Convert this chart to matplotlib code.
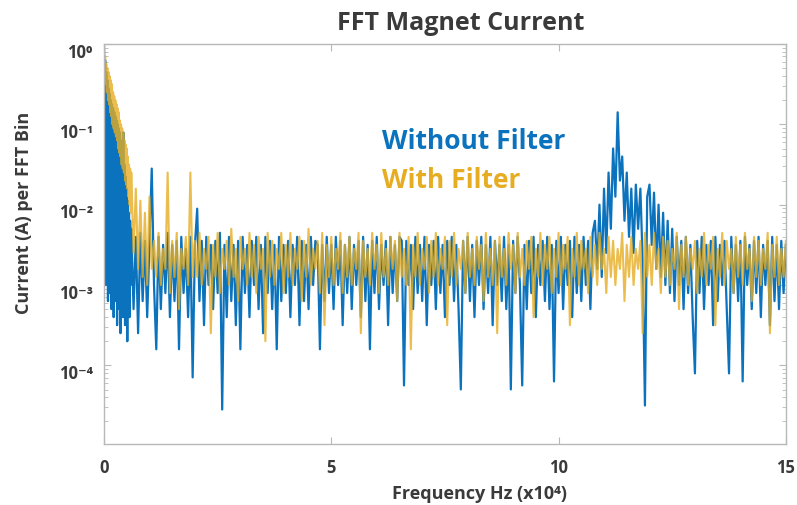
import numpy as np
import matplotlib
matplotlib.use("Agg")
import matplotlib.pyplot as plt
from matplotlib.transforms import ScaledTranslation

plt.rcParams['font.family'] = ['Open Sans', 'DejaVu Sans']

# frequency axis in units of 1e4 Hz: fine bins below 0.6, then one bin every 0.05
freq = np.concatenate([np.arange(48) * 0.0125, 0.6 + np.arange(289) * 0.05])

# log10 of current per FFT bin (first row covers 0-0.6 in 48 bins, second 0.6-1, then one row per 1e4 Hz)
without_filter_log = [
    0.0, -2.0, -0.2, -3.0, -0.35, -2.8, -0.45, -3.2, -0.55, -3.1, -0.62, -2.8, -0.7, -3.3, -0.75, -3.0,
    -0.8, -3.4, -0.85, -2.9, -0.9, -3.2, -0.95, -3.5, -1.0, -3.0, -1.05, -3.3, -1.1, -3.6, -1.2, -3.1,
    -1.3, -3.4, -1.1, -3.0, -1.5, -3.5, -1.65, -3.2, -1.8, -3.7, -1.95, -3.1, -2.1, -3.4, -2.2, -3.0,
    -2.3, -3.3, -2.4, -3.6, -2.35, -3.2, -2.45, -3.4,
    -2.5, -1.55, -3.0, -3.8, -2.4, -3.3, -2.5, -3.1, -2.35, -3.4, -2.5, -3.2, -2.45, -3.8, -2.4, -3.1, -2.55, -3.4, -2.4, -4.15,
    -2.5, -2.05, -3.2, -2.45, -3.5, -2.4, -3.0, -2.5, -3.3, -2.45, -3.1, -2.35, -4.55, -2.5, -3.4, -2.4, -3.2, -2.5, -3.5, -2.45,
    -3.8, -2.4, -3.1, -2.5, -3.4, -2.45, -3.0, -2.4, -3.3, -2.5, -3.6, -2.4, -3.1, -2.45, -3.3, -2.5, -3.8, -2.4, -3.2, -2.5,
    -3.1, -2.45, -3.4, -2.5, -3.0, -2.4, -3.5, -2.45, -3.2, -2.5, -3.3, -2.4, -3.0, -2.45, -2.5, -3.8, -2.5, -3.2, -2.4, -3.1,
    -2.5, -3.3, -2.4, -3.0, -2.45, -3.5, -2.5, -3.1, -2.4, -3.3, -2.5, -3.0, -2.45, -3.4, -2.4, -3.2, -2.5, -3.8, -2.45, -3.1,
    -2.4, -3.3, -2.5, -3.0, -2.45, -3.5, -2.4, -3.1, -2.5, -3.2, -2.4, -2.45, -4.25, -2.45, -3.0, -2.5, -3.3, -2.4, -3.1, -2.5,
    -3.2, -2.4, -3.5, -2.5, -3.0, -2.45, -3.3, -2.4, -3.1, -2.5, -3.4, -2.45, -3.0, -2.4, -3.2, -2.5, -3.3, -4.3, -2.45, -3.1,
    -2.4, -3.2, -2.5, -3.4, -2.45, -3.0, -2.4, -3.3, -2.5, -3.1, -2.4, -3.5, -2.45, -3.0, -2.5, -3.2, -2.4, -3.3, -2.5, -4.3,
    -2.45, -3.1, -2.4, -3.0, -4.25, -2.5, -3.3, -2.45, -3.1, -2.4, -3.4, -2.5, -3.0, -2.45, -3.2, -2.4, -3.3, -2.5, -4.2, -2.45,
    -3.1, -2.4, -3.3, -2.5, -3.0, -2.45, -3.4, -2.4, -3.1, -2.5, -3.2, -2.4, -3.0, -2.45, -3.3, -2.35, -2.2, -2.8, -2.0, -2.9,
    -1.8, -2.6, -1.6, -2.3, -1.3, -1.9, -0.85, -1.7, -1.4, -2.2, -1.6, -2.4, -1.8, -2.6, -1.75, -2.3, -1.8, -2.7, -4.5, -1.9,
    -1.75, -2.5, -1.85, -2.8, -2.0, -2.9, -2.1, -3.0, -2.2, -3.1, -2.3, -3.2, -2.4, -3.0, -2.45, -3.3, -2.4, -3.1, -2.5, -3.4,
    -4.1, -2.45, -3.1, -2.4, -3.3, -2.5, -3.0, -2.45, -3.5, -2.4, -3.2, -2.5, -3.0, -2.45, -3.3, -4.1, -2.4, -3.1, -2.5, -3.2,
    -2.45, -4.2, -2.4, -3.0, -2.5, -3.3, -2.45, -3.1, -2.4, -3.4, -2.5, -3.0, -2.45, -3.5, -2.4, -3.2, -2.5, -3.3, -2.45, -3.1,
    -2.5,
]

with_filter_log = [
    -0.05, -0.3, -0.15, -0.5, -0.25, -0.6, -0.3, -0.7, -0.35, -0.75, -0.4, -0.85, -0.45, -0.9, -0.5, -1.0,
    -0.6, -1.05, -0.65, -1.1, -0.7, -1.15, -0.75, -1.2, -0.8, -1.3, -0.85, -1.35, -0.95, -1.4, -1.0, -1.5,
    -1.05, -1.55, -1.1, -1.6, -1.2, -1.7, -1.25, -1.75, -1.3, -1.8, -1.4, -1.9, -1.5, -2.0, -1.55, -2.1,
    -1.6, -2.6, -1.8, -2.8, -1.95, -2.9, -2.1, -3.0,
    -1.9, -2.8, -2.45, -2.9, -2.35, -3.0, -2.55, -2.8, -1.6, -3.1, -2.45, -2.9, -2.35, -3.3, -2.55, -2.8, -2.4, -3.0, -1.6, -2.9,
    -2.45, -2.9, -2.35, -3.0, -2.55, -2.8, -2.4, -3.6, -2.5, -2.9, -2.35, -3.1, -2.55, -2.8, -2.45, -3.0, -2.3, -2.9, -2.55, -3.2,
    -2.4, -2.8, -2.55, -3.0, -2.35, -2.9, -2.5, -3.1, -2.4, -2.8, -2.55, -3.7, -2.35, -2.9, -2.45, -3.0, -2.55, -2.8, -2.35, -3.1,
    -2.5, -2.9, -2.35, -3.0, -2.55, -2.8, -2.4, -3.2, -2.45, -2.9, -2.3, -3.0, -2.55, -2.8, -2.45, -3.1, -2.35, -3.5, -2.5, -2.9,
    -2.4, -3.0, -2.55, -2.8, -2.35, -3.1, -2.5, -2.9, -2.4, -3.0, -2.55, -2.8, -2.35, -3.6, -2.45, -2.9, -2.55, -3.0, -2.35, -2.8,
    -2.5, -3.1, -2.35, -2.9, -2.55, -3.0, -2.4, -2.8, -2.45, -3.2, -2.35, -2.9, -2.55, -3.0, -2.4, -3.8, -2.5, -2.9, -2.35, -3.0,
    -2.55, -2.8, -2.4, -3.1, -2.45, -2.9, -2.35, -3.0, -2.55, -2.8, -2.4, -3.5, -2.45, -2.9, -2.35, -3.0, -2.55, -2.8, -2.45, -3.1,
    -2.35, -2.9, -2.55, -3.0, -2.4, -2.8, -2.5, -3.2, -2.35, -2.9, -2.55, -3.0, -2.45, -3.6, -2.4, -2.9, -2.55, -3.0, -2.35, -2.8,
    -2.5, -3.1, -2.35, -2.9, -2.55, -3.0, -2.45, -2.8, -2.4, -3.4, -2.55, -2.9, -2.35, -3.0, -2.5, -2.8, -2.4, -3.1, -2.55, -2.9,
    -2.35, -3.0, -2.5, -2.8, -2.4, -3.5, -2.55, -2.9, -2.35, -3.0, -2.45, -2.8, -2.55, -3.1, -2.4, -2.9, -2.5, -3.0, -2.35, -2.8,
    -2.55, -3.1, -2.4, -2.9, -2.45, -3.0, -2.55, -2.8, -2.35, -3.2, -2.5, -2.9, -2.4, -3.0, -2.55, -2.8, -2.45, -3.6, -2.35, -2.9,
    -2.5, -3.0, -2.35, -2.8, -2.55, -3.1, -2.4, -2.9, -2.45, -3.0, -2.55, -2.8, -2.35, -3.3, -2.5, -2.9, -2.4, -3.0, -2.55, -2.8,
    -2.45, -3.1, -2.55, -2.9, -2.35, -3.0, -2.5, -2.8, -2.4, -3.5, -2.55, -2.9, -2.35, -3.0, -2.45, -2.8, -2.55, -3.1, -2.4, -2.9,
    -2.5, -3.0, -2.35, -2.8, -2.55, -3.2, -2.4, -2.9, -2.45, -3.0, -2.55, -2.8, -2.35, -3.6, -2.5, -2.9, -2.4, -3.0, -2.55, -2.9,
    -2.45,
]

y_ticks = [1e-4, 1e-3, 1e-2, 1e-1, 1e0]
y_tick_labels = ['10⁻⁴', '10⁻³', '10⁻²', '10⁻¹', '10⁰']
x_ticks = [0, 5, 10, 15]

blue = '#0b72bd'
gold = '#e6ad22'
dark = '#3a3a3a'
edge = '#b8b8b8'

fig = plt.figure(figsize=(7.97, 5.06), dpi=100)
ax = fig.add_axes([0.1305, 0.1206, 0.8555, 0.7904])

ax.plot(freq, 10 ** np.array(without_filter_log), color=blue, lw=1.6)
ax.plot(freq, 10 ** np.array(with_filter_log), color=gold, lw=1.5, alpha=0.8)

ax.set_yscale('log')
ax.set_xlim(0, 15)
ax.set_ylim(1.05e-5, 1)
ax.set_yticks(y_ticks)
ax.set_yticklabels(y_tick_labels)
ax.set_xticks(x_ticks)
ax.set_xticklabels([str(t) for t in x_ticks])

for s in ax.spines.values():
    s.set_color(edge)
    s.set_linewidth(1.0)
ax.tick_params(which='both', direction='in', top=True, right=True, color=edge,
               labelcolor=dark, labelsize=12)
ax.tick_params(which='major', length=5)
ax.tick_params(which='minor', length=3)
ax.tick_params(axis='x', which='major', pad=10)
ax.tick_params(axis='y', which='major', pad=8)
shift_down = ScaledTranslation(0, -4 / 72, fig.dpi_scale_trans)
for lab in ax.get_yticklabels():
    lab.set_transform(lab.get_transform() + shift_down)
for lab in ax.get_xticklabels() + ax.get_yticklabels():
    lab.set_fontweight('bold')

ax.set_title('FFT Magnet Current', fontsize=18, fontweight='bold', color=dark,
             x=0.523, pad=11)
ax.set_xlabel('Frequency Hz (x10⁴)', fontsize=13, fontweight='bold', color=dark)
ax.set_ylabel('Current (A) per FFT Bin', fontsize=13, fontweight='bold', color=dark)
ax.xaxis.set_label_coords(0.551, -0.1)
ax.yaxis.set_label_coords(-0.104, 0.58)

ax.text(0.408, 0.76, 'Without Filter', transform=ax.transAxes, color=blue,
        fontsize=19, fontweight='bold', va='center')
ax.text(0.408, 0.662, 'With Filter', transform=ax.transAxes, color=gold,
        fontsize=19, fontweight='bold', va='center')

fig.savefig('out.png', dpi=100)
